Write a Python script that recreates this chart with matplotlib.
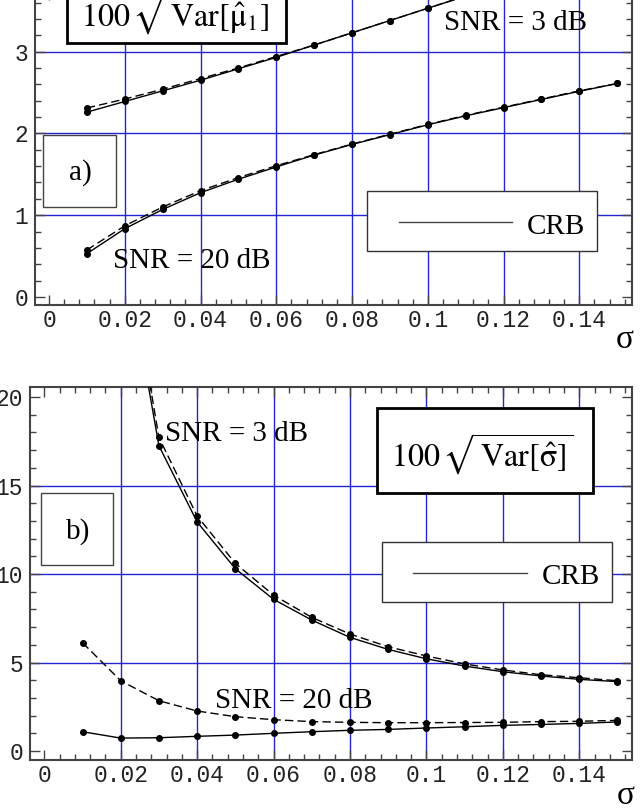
import matplotlib
matplotlib.use('Agg')
import matplotlib.pyplot as plt
from matplotlib.patches import Rectangle
from matplotlib.lines import Line2D
from matplotlib.ticker import MultipleLocator, FuncFormatter

plt.rcParams['font.family'] = 'Liberation Mono'
plt.rcParams['mathtext.fontset'] = 'stix'

sigma = [0.01, 0.02, 0.03, 0.04, 0.05, 0.06, 0.07, 0.08, 0.09, 0.10,
         0.11, 0.12, 0.13, 0.14, 0.15]

# a) 100 sqrt(Var[mu1]) : estimator (dashed) and CRB (solid)
mu_3db_est = [2.31, 2.42, 2.54, 2.67, 2.80, 2.94, 3.08, 3.23, 3.38, 3.53,
              3.68, 3.83, 3.98, 4.13, 4.28]
mu_3db_crb = [2.26, 2.39, 2.52, 2.65, 2.79, 2.93, 3.08, 3.23, 3.38, 3.53,
              3.68, 3.83, 3.98, 4.13, 4.28]
mu_20db_est = [0.575, 0.87, 1.10, 1.30, 1.46, 1.605, 1.74, 1.87, 1.99, 2.11,
               2.22, 2.32, 2.42, 2.52, 2.61]
mu_20db_crb = [0.53, 0.835, 1.07, 1.275, 1.44, 1.59, 1.735, 1.865, 1.985, 2.105,
               2.215, 2.315, 2.415, 2.515, 2.61]

# b) 100 sqrt(Var[sigma hat])
sg_3db_est = [58.0, 30.5, 17.72, 13.28, 10.6, 8.81, 7.55, 6.61, 5.89, 5.37,
              4.92, 4.58, 4.31, 4.14, 3.97]
sg_3db_crb = [57.0, 29.5, 17.25, 12.94, 10.3, 8.57, 7.40, 6.42, 5.74, 5.21,
              4.80, 4.48, 4.24, 4.05, 3.92]
sg_20db_est = [6.12, 3.97, 2.84, 2.26, 1.94, 1.77, 1.66, 1.62, 1.60, 1.60,
               1.61, 1.62, 1.66, 1.68, 1.73]
sg_20db_crb = [1.09, 0.73, 0.75, 0.83, 0.90, 1.00, 1.09, 1.17, 1.22, 1.30,
               1.37, 1.45, 1.50, 1.56, 1.64]

x_grid = [0.02, 0.04, 0.06, 0.08, 0.10, 0.12, 0.14]

W, H = 640, 811
fig = plt.figure(figsize=(W / 100, H / 100), dpi=100)

BLUE = '#2424d4'
SERIF = 'Liberation Serif'


def px_axes(left, top, right, bottom):
    return fig.add_axes([left / W, 1 - bottom / H, (right - left) / W, (bottom - top) / H])


def box(x0, y0, x1, y1, lw=1.0, ec='#444444'):
    fig.add_artist(Rectangle((x0 / W, 1 - y1 / H), (x1 - x0) / W, (y1 - y0) / H,
                             transform=fig.transFigure, fc='white', ec=ec, lw=lw))


def label(x, y, s, size=21, ha='left'):
    fig.text(x / W, 1 - y / H, s, fontsize=size, family=SERIF, ha=ha, va='baseline')


def crb_key(x0, y0, x1, y1, lx0, lx1, ly, tx, ty):
    box(x0, y0, x1, y1, lw=1.0, ec='#333333')
    fig.add_artist(Line2D([lx0 / W, lx1 / W], [1 - ly / H, 1 - ly / H],
                          transform=fig.transFigure, color='#444444', lw=1.0))
    label(tx, ty, 'CRB')


def setup(ax, ymaj, ymin, ygrid):
    ax.xaxis.set_major_locator(MultipleLocator(0.02))
    ax.xaxis.set_minor_locator(MultipleLocator(0.004))
    ax.yaxis.set_major_locator(MultipleLocator(ymaj))
    ax.yaxis.set_minor_locator(MultipleLocator(ymin))
    ax.xaxis.set_major_formatter(FuncFormatter(lambda v, p: f'{v:g}'))
    ax.yaxis.set_major_formatter(FuncFormatter(lambda v, p: f'{v:g}'))
    ax.tick_params(which='both', direction='in', top=True, right=True,
                   color='#444444', width=1.0)
    ax.tick_params(which='major', length=7, labelsize=16.5, labelcolor='#222222')
    ax.tick_params(which='minor', length=4)
    ax.tick_params(axis='x', pad=3)
    ax.tick_params(axis='y', pad=5)
    for s in ax.spines.values():
        s.set_color('#444444')
        s.set_linewidth(1.5)
    for gx in x_grid:
        ax.axvline(gx, color=BLUE, lw=1.0, zorder=0.5)
    for gy in ygrid:
        ax.axhline(gy, color=BLUE, lw=1.0, zorder=0.5)


def curves(ax, est, crb):
    ax.plot(sigma, est, color='black', lw=1.0, dashes=(6, 3), marker='o', ms=4, zorder=3)
    ax.plot(sigma, crb, color='black', lw=1.0, marker='o', ms=4, zorder=3)


# ---- panel a) ----
ax1 = px_axes(35, -10, 632, 305)
ax1.set_xlim(-0.0037, 0.1539)
ax1.set_ylim(-0.098, 3.753)
setup(ax1, 1, 0.2, [1, 2, 3])
curves(ax1, mu_3db_est, mu_3db_crb)
curves(ax1, mu_20db_est, mu_20db_crb)

box(66.7, -10, 286, 42.7, lw=2.0, ec='black')
fig.text(178 / W, 1 - 27 / H, r'$100\,\sqrt{\,\mathrm{Var}[\hat{\mathrm{\mu}}_1]}$',
         fontsize=23, ha='center', va='baseline')
box(43, 135, 116, 207)
label(80, 180, 'a)', ha='center')
crb_key(367, 191, 597, 251, 399, 512, 222, 527, 234)
label(444, 30, 'SNR = 3 dB')
label(113, 268, 'SNR = 20 dB')
label(625, 348, 'σ', size=24, ha='center')

# ---- panel b) ----
ax2 = px_axes(30, 387.3, 632.3, 760)
ax2.set_xlim(-0.00374, 0.15389)
ax2.set_ylim(-0.508, 20.55)
setup(ax2, 5, 1, [5, 10, 15])
curves(ax2, sg_3db_est, sg_3db_crb)
curves(ax2, sg_20db_est, sg_20db_crb)

box(376.7, 408.3, 592.7, 492.7, lw=2.0, ec='black')
fig.text(482 / W, 1 - 467 / H, r'$100\,\sqrt{\,\mathrm{Var}[\hat{\mathrm{\sigma}}]}$',
         fontsize=23, ha='center', va='baseline')
box(40.7, 492.7, 113.3, 565.3)
label(78, 539, 'b)', ha='center')
crb_key(381.7, 541.7, 611.7, 601.7, 413.3, 526.7, 572.7, 541.7, 584)
label(165, 441, 'SNR = 3 dB')
label(215, 708, 'SNR = 20 dB')
label(626, 804, 'σ', size=24, ha='center')

fig.savefig('out.png', dpi=100)
